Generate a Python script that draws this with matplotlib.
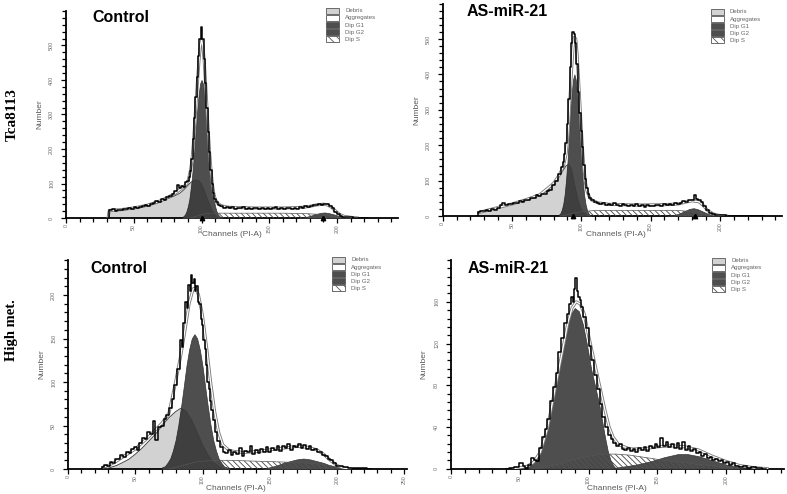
import matplotlib
matplotlib.use('Agg')
import matplotlib.pyplot as plt
from matplotlib.patches import Rectangle
from matplotlib.ticker import MultipleLocator, FixedLocator

plt.rcParams['font.family'] = ['Liberation Sans', 'DejaVu Sans']
plt.rcParams['hatch.linewidth'] = 0.6

W, H = 787, 494

# ---------------- data (channel, count) ----------------
LEGEND_LABELS = ['Debris', 'Aggregates', 'Dip G1', 'Dip G2', 'Dip S']
ROW_LABELS = ['Tca8113', 'High met.']
PANEL_TITLES = ['Control', 'AS-miR-21', 'Control', 'AS-miR-21']

# --- Tca8113 Control ---
TL_HIST = [(31,0),(32,24),(33,22),(35,25),(37,21),(39,24),(41,22),(43,26),(45,25),(47,28),(49,27),(51,31),(53,29),
           (55,33),(57,34),(59,38),(61,36),(63,42),(65,44),(67,48),(69,46),(71,55),(73,53),(75,60),(77,63),(79,70),
           (81,78),(83,97),(84,88),(85,92),(87,90),(89,103),(90,108),(91,118),(92,135),(93,170),(94,230),(95,290),
           (96,350),(97,410),(98,470),(99,520),(100,555),(101,520),(102,460),(103,390),(104,320),(105,250),(106,190),
           (107,140),(108,100),(109,72),(110,56),(111,46),(113,38),(115,34),(117,30),(119,32),(121,28),(123,31),
           (125,27),(127,30),(129,29),(131,32),(133,27),(135,29),(137,26),(139,30),(141,28),(143,25),(145,29),
           (147,27),(149,30),(151,26),(153,28),(155,31),(157,27),(159,29),(161,26),(163,30),(165,28),(167,25),
           (169,29),(171,27),(173,33),(175,30),(177,34),(179,32),(181,36),(183,38),(185,37),(187,40),(189,39),
           (191,42),(193,41),(195,36),(197,28),(199,18),(201,11),(203,6),(205,4),(207,2),(210,2),(213,1),(217,1),
           (221,1),(223,0)]
TL_MODEL = [(31,0),(32,22),(40,24),(50,29),(60,37),(70,50),(80,70),(85,85),(88,95),(90,105),(92,140),(93,170),
            (94,215),(95,275),(96,335),(97,395),(98,450),(99,495),(100,515),(101,500),(102,455),(103,390),(104,320),
            (105,250),(106,188),(107,138),(108,98),(109,72),(110,55),(112,42),(115,35),(120,31),(140,29),(160,29),
            (175,31),(180,34),(185,38),(190,40),(193,38),(196,31),(199,20),(202,10),(205,5),(210,2),(215,0)]
TL_DEBRIS = [(32,20),(35,21),(40,22),(45,24),(50,27),(55,30),(60,35),(65,40),(70,47),(75,56),(80,64),(84,72),
             (87,82),(90,95),(92,103),(94,108),(96,110),(98,108),(100,98),(102,80),(104,58),(106,38),(108,20),
             (110,8),(112,0)]
TL_G1 = [(86,3),(87,6),(88,11),(89,20),(90,34),(91,53),(92,83),(93,119),(94,164),(95,216),(96,269),(97,320),
         (98,362),(99,390),(100,400),(101,390),(102,362),(103,320),(104,269),(105,216),(106,164),(107,119),
         (108,83),(109,53),(110,34),(111,20),(112,11),(113,6),(114,3),(115,0)]
TL_G2 = [(172,0),(176,2),(180,6),(184,11),(188,15),(191,16),(194,14),(198,10),(202,5),(206,2),(210,0)]
TL_S = [(92,0),(96,5),(100,10),(104,13),(108,14),(120,14),(140,14),(160,14),(175,13),(185,11),(192,8),(198,4),
        (204,1),(208,0)]
TL_MARKS = [100, 190]

# --- Tca8113 AS-miR-21 ---
TR_HIST = [(25,0),(26,12),(28,14),(30,13),(32,17),(34,15),(36,19),(38,18),(40,24),(42,30),(44,38),(46,31),(48,34),
           (50,33),(52,38),(54,36),(56,42),(58,40),(60,46),(62,44),(64,52),(66,50),(68,58),(70,56),(72,63),(74,62),
           (76,70),(78,74),(80,88),(82,100),(84,118),(86,138),(87,152),(88,175),(89,205),(90,260),(91,330),(92,420),
           (93,490),(94,520),(95,515),(96,490),(97,430),(98,350),(99,290),(100,240),(101,195),(102,145),(103,105),
           (104,78),(105,62),(106,52),(108,45),(110,40),(112,36),(114,33),(116,37),(118,31),(120,34),(122,30),
           (124,38),(126,32),(128,29),(130,33),(132,30),(134,27),(136,31),(138,29),(140,33),(142,28),(144,30),
           (146,26),(148,31),(150,29),(152,27),(154,32),(156,30),(158,28),(160,33),(162,30),(164,34),(166,31),
           (168,36),(170,34),(172,38),(174,42),(176,40),(178,45),(180,44),(182,60),(183,48),(185,44),(187,40),
           (189,28),(191,16),(193,8),(195,5),(198,3),(202,2),(207,1),(212,1),(220,1),(228,1),(231,0)]
TR_MODEL = [(26,10),(30,14),(40,24),(50,34),(60,46),(70,60),(80,92),(84,115),(87,140),(89,175),(90,215),(91,275),
            (92,345),(93,415),(94,475),(95,505),(96,500),(97,455),(98,385),(99,315),(100,245),(101,180),(102,130),
            (103,95),(104,72),(106,52),(108,44),(112,37),(120,33),(140,31),(160,32),(170,34),(175,39),(180,43),
            (185,40),(188,30),(191,16),(195,6),(200,1),(205,0)]
TR_DEBRIS = [(26,10),(30,13),(35,17),(40,22),(45,28),(50,33),(55,38),(60,44),(65,51),(70,58),(75,70),(80,90),
             (84,112),(87,130),(89,142),(91,146),(93,130),(95,92),(97,55),(99,27),(101,11),(103,3),(105,0)]
TR_G1 = [(84,4),(85,8),(86,18),(87,34),(88,60),(89,100),(90,152),(91,216),(92,283),(93,343),(94,385),(95,400),
         (96,385),(97,343),(98,283),(99,216),(100,152),(101,100),(102,60),(103,34),(104,18),(105,8),(106,4),(107,0)]
TR_G2 = [(162,0),(166,2),(170,6),(174,13),(178,20),(181,22),(184,19),(188,12),(192,5),(196,2),(200,0)]
TR_S = [(86,0),(90,4),(94,8),(98,11),(102,13),(108,15),(120,16),(140,16),(160,16),(172,15),(180,12),(186,8),
        (190,4),(195,1),(198,0)]
TR_MARKS = [94, 182]

# --- High met. Control ---
BL_HIST = [(25,0),(26,2),(28,5),(30,4),(32,8),(34,7),(36,12),(38,11),(40,16),(42,14),(44,20),(46,18),(48,23),
           (50,25),(52,22),(54,30),(56,36),(58,34),(60,42),(62,40),(64,55),(66,33),(68,48),(70,50),(72,57),(74,62),
           (76,70),(78,80),(80,96),(82,115),(84,148),(85,140),(86,168),(88,192),(89,185),(90,212),(91,205),
           (92,223),(93,214),(94,218),(95,205),(96,210),(97,192),(98,190),(99,172),(100,165),(101,148),(102,138),
           (103,120),(104,100),(105,92),(106,78),(107,68),(108,56),(110,42),(112,32),(114,25),(116,20),(118,18),
           (120,22),(122,16),(124,20),(126,17),(128,24),(130,15),(132,21),(134,19),(136,27),(138,17),(140,22),
           (142,18),(144,23),(146,20),(148,25),(150,19),(152,24),(154,22),(156,27),(158,21),(160,26),(162,24),
           (164,29),(166,22),(168,27),(170,25),(172,29),(174,24),(176,28),(178,23),(180,26),(182,22),(184,23),
           (186,19),(188,20),(190,16),(192,15),(194,12),(196,10),(198,7),(200,4),(203,3),(206,2),(210,1),(215,1),
           (220,1),(225,0)]
BL_MODEL = [(26,2),(30,4),(35,8),(40,13),(45,18),(50,23),(55,30),(60,37),(65,45),(70,53),(75,64),(80,100),
            (84,132),(87,160),(90,190),(93,207),(95,208),(97,200),(100,176),(103,140),(106,100),(109,66),(112,42),
            (115,28),(120,21),(130,19),(140,20),(150,22),(160,24),(170,26),(178,25),(185,22),(190,17),(195,10),
            (200,4),(205,1),(210,0)]
BL_DEBRIS = [(28,0),(32,2),(36,4),(40,7),(45,11),(50,17),(55,24),(60,32),(65,40),(70,50),(75,59),(80,66),(84,70),
             (88,66),(92,56),(96,42),(100,28),(104,16),(108,8),(112,3),(116,0)]
BL_G1 = [(70,2),(72,3),(74,7),(76,12),(78,21),(80,33),(82,50),(84,71),(86,94),(88,118),(90,137),(92,150),(94,155),
         (96,150),(98,137),(100,118),(102,94),(104,71),(106,50),(108,33),(110,21),(112,12),(114,7),(116,3),(118,2),
         (120,0)]
BL_G2 = [(145,0),(150,2),(155,4),(160,7),(165,9),(170,11),(175,12),(180,11),(185,9),(190,7),(195,4),(200,2),
         (205,1),(210,0)]
BL_S = [(75,0),(80,2),(85,4),(90,6),(95,8),(100,9),(110,10),(120,10),(140,9),(160,8),(175,7),(185,6),(195,4),
        (200,2),(205,0)]
BL_MARKS = []

# --- High met. AS-miR-21 ---
BR_HIST = [(40,0),(44,1),(48,2),(51,5),(53,3),(55,1),(57,4),(59,10),(61,8),(63,7),(65,20),(67,30),(69,38),(71,48),
           (73,65),(75,78),(77,92),(79,112),(81,125),(83,140),(85,148),(87,158),(88,165),(89,160),(90,172),(91,183),
           (92,170),(93,165),(94,162),(95,155),(97,145),(99,135),(101,118),(103,104),(105,90),(107,76),(109,62),
           (111,50),(113,40),(115,32),(117,28),(119,25),(121,22),(123,24),(125,19),(127,18),(129,20),(131,17),
           (133,19),(135,16),(137,20),(139,18),(141,21),(143,17),(145,22),(147,20),(149,24),(151,21),(153,29),
           (155,22),(157,26),(159,21),(161,24),(163,20),(165,25),(167,19),(169,26),(171,18),(173,22),(175,17),
           (177,19),(179,15),(181,16),(183,12),(185,14),(187,10),(189,11),(191,8),(193,9),(195,7),(197,8),(199,5),
           (201,6),(203,4),(205,5),(208,3),(211,2),(214,3),(217,1),(220,2),(224,1),(229,0)]
BR_MODEL = [(45,0),(55,2),(60,6),(65,16),(70,38),(75,72),(80,106),(85,140),(88,154),(91,160),(94,158),(97,148),
            (100,128),(103,110),(106,92),(109,74),(112,56),(115,40),(118,30),(122,23),(130,19),(140,19),(150,21),
            (160,22),(170,21),(180,18),(190,12),(200,7),(210,3),(220,1),(230,0)]
BR_DEBRIS = []
BR_G1 = [(56,1),(60,6),(63,12),(66,22),(69,36),(72,55),(75,75),(78,98),(81,118),(84,135),(87,148),(90,154),
         (93,151),(96,138),(99,118),(102,95),(105,78),(108,60),(110,45),(112,30),(114,17),(116,8),(118,3),(120,0)]
BR_G2 = [(115,0),(125,2),(135,4),(145,7),(155,11),(165,14),(172,14),(180,12),(190,8),(200,4),(210,1),(215,0)]
BR_S = [(60,0),(70,2),(80,5),(90,9),(100,12),(110,14),(120,14),(130,13),(140,11),(150,9),(160,7),(170,6),(180,4),
        (190,3),(200,1),(205,0)]
BR_MARKS = []

TL_YTICKS = [0, 100, 200, 300, 400, 500]
BL_YTICKS = [0, 50, 100, 150, 200]
BR_YTICKS = [0, 40, 80, 120, 160]

# ---------------- styling ----------------
C_DEBRIS = '#d2d2d2'
C_DIP = '#4e4e4e'
HATCH = '\\\\\\\\\\\\'
TICK_COLOR = '#6a6a6a'

fig = plt.figure(figsize=(W / 100, H / 100), dpi=100)


def unzip(pairs):
    return [p[0] for p in pairs], [p[1] for p in pairs]


def px_text(x, y, s, **kw):
    fig.text(x / W, 1 - y / H, s, **kw)


def draw_legend(x0, y0):
    styles = [dict(facecolor=C_DEBRIS), dict(facecolor='white'), dict(facecolor=C_DIP),
              dict(facecolor=C_DIP), dict(facecolor='white', hatch='\\\\\\\\')]
    for i, (lab, st) in enumerate(zip(LEGEND_LABELS, styles)):
        y = y0 + i * 7.1
        r = Rectangle((x0 / W, 1 - (y + 5.6) / H), 13 / W, 5.6 / H, transform=fig.transFigure,
                      edgecolor='#555555', lw=0.6, **st)
        fig.add_artist(r)
        px_text(x0 + 19, y + 2.9, lab, fontsize=4.4, color='#666666', ha='left', va='center')


def draw_panel(rect, xlim, ylim, yticks, yminor, hist, model, debris, g1, g2, s, marks,
               title, title_xy, legend_xy, ylabel_xy, xlabel_xy):
    left, top, right, bottom = rect
    ax = fig.add_axes([left / W, 1 - bottom / H, (right - left) / W, (bottom - top) / H])
    ax.set_xlim(*xlim)
    ax.set_ylim(*ylim)

    if debris:
        dx, dy = unzip(debris)
        ax.fill_between(dx, 0, dy, facecolor=C_DEBRIS, lw=0, zorder=1)
    sx, sy = unzip(s)
    ax.fill_between(sx, 0, sy, facecolor='white', lw=0, zorder=2)
    gx, gy = unzip(g1)
    g1poly = ax.fill_between(gx, 0, gy, facecolor=C_DIP, edgecolor='#333333', lw=0.5, zorder=3)
    g2x, g2y = unzip(g2)
    ax.fill_between(g2x, 0, g2y, facecolor=C_DIP, edgecolor='#333333', lw=0.5, zorder=3)
    if debris:
        ov = ax.fill_between(dx, 0, dy, facecolor='black', alpha=0.18, lw=0, zorder=4)
        ov.set_clip_path(g1poly.get_paths()[0], ax.transData)
        ax.plot(dx, dy, color='#3a3a3a', lw=0.6, zorder=4.5)
    ax.fill_between(sx, 0, sy, facecolor='none', edgecolor='#444444', hatch=HATCH, lw=0, zorder=5)
    ax.plot(sx, sy, color='#555555', lw=0.5, zorder=5.2)

    mx, my = unzip(model)
    ax.plot(mx, my, color='#7c7c7c', lw=2.2, zorder=6, solid_joinstyle='round')
    ax.plot(mx, my, color='white', lw=0.9, zorder=6.1, solid_joinstyle='round')
    hx, hy = unzip(hist)
    ax.plot(hx, hy, color='black', lw=1.1, drawstyle='steps-mid', zorder=7)
    if marks:
        ax.plot(marks, [ylim[0]] * len(marks), ls='none', marker='^', ms=3.2, color='black',
                clip_on=False, zorder=9)

    for sp in ['top', 'right']:
        ax.spines[sp].set_visible(False)
    for sp in ['left', 'bottom']:
        ax.spines[sp].set_linewidth(1.3)
        ax.spines[sp].set_color('black')
    ax.xaxis.set_major_locator(MultipleLocator(50))
    ax.xaxis.set_minor_locator(MultipleLocator(10))
    ax.yaxis.set_major_locator(FixedLocator(yticks))
    ax.yaxis.set_minor_locator(MultipleLocator(yminor))
    ax.tick_params(which='both', direction='out', color='black', width=0.9)
    ax.tick_params(which='major', length=3.5)
    ax.tick_params(which='minor', length=2.8)
    ax.tick_params(axis='x', labelsize=3.7, labelcolor=TICK_COLOR, labelrotation=90, pad=1.2)
    ax.tick_params(axis='y', labelsize=3.9, labelcolor=TICK_COLOR, labelrotation=90, pad=5)
    for lab in ax.get_yticklabels():
        lab.set_va('center')
    ax.set_facecolor('none')

    px_text(title_xy[0], title_xy[1], title, fontsize=11.5, fontweight='bold', ha='left', va='center')
    draw_legend(*legend_xy)
    px_text(ylabel_xy[0], ylabel_xy[1], 'Number', fontsize=6, color='#5a5a5a', rotation=90,
            ha='center', va='center')
    px_text(xlabel_xy[0], xlabel_xy[1], 'Channels (PI-A)', fontsize=6, color='#5a5a5a',
            ha='center', va='center')
    return ax


draw_panel((66, 11, 398, 218), (0, 245), (0, 600), TL_YTICKS, 20,
           TL_HIST, TL_MODEL, TL_DEBRIS, TL_G1, TL_G2, TL_S, TL_MARKS,
           PANEL_TITLES[0], (92, 17.5), (326, 8), (40, 114), (232, 235))
draw_panel((442.7, 3.6, 782.3, 216), (0, 245), (0, 600), TL_YTICKS, 20,
           TR_HIST, TR_MODEL, TR_DEBRIS, TR_G1, TR_G2, TR_S, TR_MARKS,
           PANEL_TITLES[1], (467, 12), (711, 9), (417, 110), (616, 234))
draw_panel((68, 260.2, 407, 469), (0, 252), (0, 240), BL_YTICKS, 10,
           BL_HIST, BL_MODEL, BL_DEBRIS, BL_G1, BL_G2, BL_S, BL_MARKS,
           PANEL_TITLES[2], (90, 268.5), (332, 257), (42, 364), (236, 488))
draw_panel((451, 260.1, 783.75, 468.7), (0, 242), (0, 200), BR_YTICKS, 8,
           BR_HIST, BR_MODEL, BR_DEBRIS, BR_G1, BR_G2, BR_S, BR_MARKS,
           PANEL_TITLES[3], (468, 268.5), (712, 258), (424, 364), (617, 488))

px_text(12, 115, ROW_LABELS[0], family=['Liberation Serif', 'DejaVu Serif'], fontweight='bold',
        fontsize=11, rotation=90, ha='center', va='center')
px_text(12, 330, ROW_LABELS[1], family=['Liberation Serif', 'DejaVu Serif'], fontweight='bold',
        fontsize=10.5, rotation=90, ha='center', va='center')

fig.savefig('out.png', dpi=100)
